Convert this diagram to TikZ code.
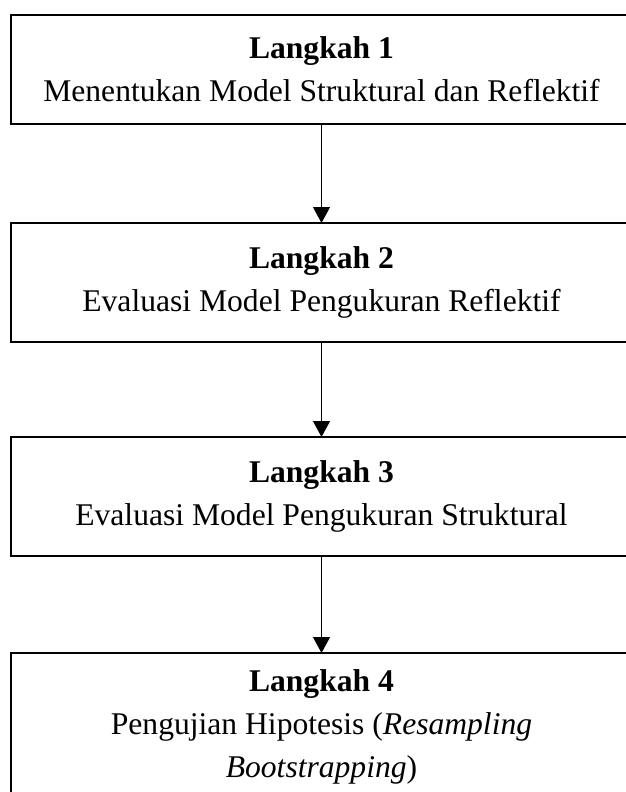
\documentclass[tikz,border=0pt]{standalone}
\usepackage{fontspec}
\setmainfont{Liberation Serif}
\usetikzlibrary{arrows.meta,positioning}

\begin{document}
\begin{tikzpicture}[
  langkah/.style={draw,line width=1pt,align=center,minimum width=310.5pt,
    inner sep=0pt,outer sep=0pt,font=\fontsize{15.8}{21.5}\selectfont},
  panah/.style={-{Triangle[width=8.5pt,length=8pt]},line width=0.6pt}]

\useasboundingbox (0,0) rectangle (313pt,-396pt);

% kotak langkah
\node[langkah,minimum height=54.5pt] (L1) at (160.75pt,-34.75pt)
  {\textbf{Langkah 1}\\Menentukan Model Struktural dan Reflektif};
\node[langkah,minimum height=59.5pt,below=49.5pt of L1] (L2)
  {\textbf{Langkah 2}\\Evaluasi Model Pengukuran Reflektif};
\node[langkah,minimum height=59.5pt,below=47.5pt of L2] (L3)
  {\textbf{Langkah 3}\\Evaluasi Model Pengukuran Struktural};
\node[langkah,minimum height=74pt,below=48.5pt of L3] (L4)
  {\textbf{Langkah 4}\\Pengujian Hipotesis (\textit{Resampling}\\\textit{Bootstrapping})};

% panah
\draw[panah] (L1) -- (L2);
\draw[panah] (L2) -- (L3);
\draw[panah] (L3) -- (L4);

\end{tikzpicture}
\end{document}
